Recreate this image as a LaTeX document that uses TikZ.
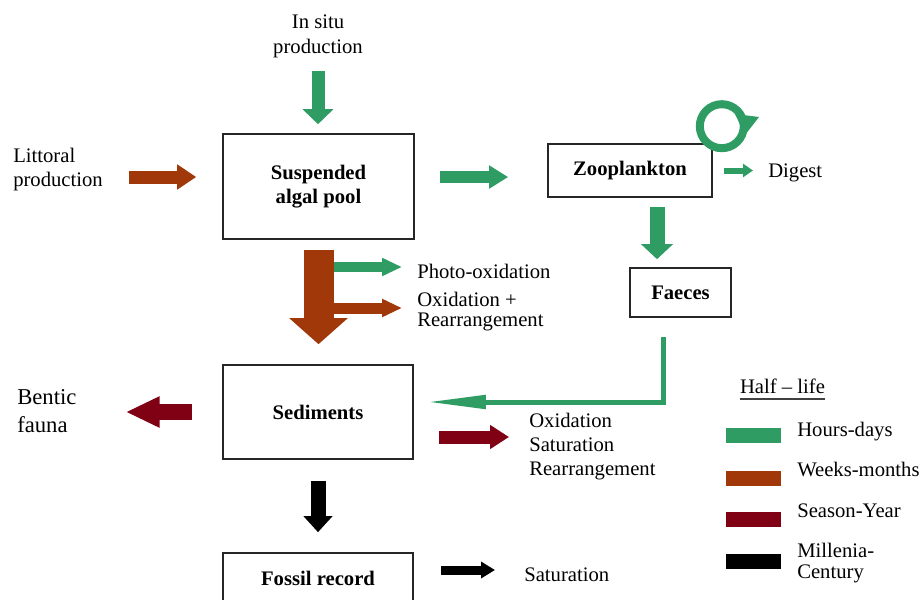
\documentclass[tikz,border=0pt]{standalone}
\usepackage{fontspec}
\setmainfont{Liberation Serif}
\usetikzlibrary{arrows.meta}
\definecolor{hgreen}{RGB}{46,156,99}
\definecolor{hbrown}{RGB}{160,56,10}
\definecolor{hred}{RGB}{128,0,20}
\begin{document}
\begin{tikzpicture}[x=0.75pt, y=-0.75pt,
    font=\fontsize{15.5}{18}\selectfont,
    box/.style={draw=black!85, line width=1.2pt, font=\fontsize{15.5}{18}\selectfont\bfseries, align=center, inner sep=0pt},
    lbl/.style={inner sep=0pt, align=left, anchor=west},
    key/.style={inner sep=0pt, minimum width=41.25pt, minimum height=11.25pt}]
    \useasboundingbox (0,0) rectangle (923,599);
    \clip (0,0) rectangle (923,599);

    % boxes
    \node[box, minimum width=143.25pt, minimum height=78.75pt] (algal) at (318.5,186.5) {Suspended\\algal pool};
    \node[box, minimum width=123pt, minimum height=39.75pt] (zoo) at (630,170.5) {Zooplankton};
    \node[box, minimum width=75.75pt, minimum height=36.75pt] (faeces) at (680.5,292.5) {Faeces};
    \node[box, minimum width=142.5pt, minimum height=70.5pt] (sed) at (318,412) {Sediments};
    \node[box, minimum width=142.5pt, minimum height=37.5pt] (fossil) at (318,578) {Fossil record};

    % labels
    \node[inner sep=0pt, align=center, font=\fontsize{15.5}{18.75}\selectfont] (insitu) at (318,36) {In situ\\production};
    \node[lbl] (littoral) at (13,170) {Littoral\\production};
    \node[lbl] (digest) at (768,173) {Digest};
    \node[lbl] (photo) at (417,271) {Photo-oxidation};
    \node[lbl] (oxrear) at (417,312) {Oxidation +\\[-3pt]Rearrangement};
    \node[lbl, font=\fontsize{17}{21}\selectfont] (bentic) at (17,411) {Bentic\\fauna};
    \node[lbl] (oxsat) at (529,447) {Oxidation\\Saturation\\Rearrangement};
    \node[lbl] (sat) at (524,575) {Saturation};

    % inputs
    \draw[hgreen, line width=9.75pt, -{Triangle[width=22.5pt,length=11.25pt]}, shorten <=10.1pt, shorten >=6.75pt]
        (insitu.south) -- (insitu.south |- algal.north);
    \draw[hbrown, line width=9.75pt, -{Triangle[width=18pt,length=14.25pt]}, shorten <=19.5pt, shorten >=19.5pt]
        ([yshift=-5.25pt]littoral.east) -- ([yshift=-5.25pt]littoral.east -| algal.west);

    % algal pool to zooplankton
    \draw[hgreen, line width=9pt, -{Triangle[width=16.5pt,length=14.25pt]}, shorten <=18.75pt, shorten >=29.25pt]
        ([yshift=7.1pt]algal.east) -- ([yshift=7.1pt]algal.east -| zoo.west);
    \draw[hgreen, line width=4.5pt, -{Triangle[width=9.75pt,length=7.5pt]}, shorten <=8.25pt, shorten >=11.25pt]
        (zoo.east) -- (zoo.east -| digest.west);
    \draw[hgreen, line width=11.25pt, -{Triangle[width=23.25pt,length=11.25pt]}, shorten <=6.75pt, shorten >=6pt]
        ([xshift=20.25pt]zoo.south) -- ([xshift=20.25pt]zoo.south |- faeces.north);
    % grazing loop
    \draw[hgreen, line width=6pt] ([xshift=6.75pt, yshift=12.75pt]zoo.north east) circle[radius=16.5pt];
    \fill[hgreen] (735,114) -- (759,117) -- (745,135) -- cycle;

    % settling
    \draw[hgreen, line width=7.5pt, -{Triangle[width=12.75pt,length=15pt]}, shorten >=11.25pt]
        ([yshift=3pt]photo.west -| algal.south) -- ([yshift=3pt]photo.west);
    \draw[hbrown, line width=8.25pt, -{Triangle[width=12.75pt,length=15pt]}, shorten >=11.25pt]
        ([yshift=3pt]oxrear.west -| algal.south) -- ([yshift=3pt]oxrear.west);
    \draw[hbrown, line width=22.5pt, -{Triangle[width=42.75pt,length=19.5pt]}, shorten <=7.5pt, shorten >=15pt]
        (algal.south) -- (algal.south |- sed.north);
    \draw[hgreen, line width=3.75pt, -{Triangle[width=9.75pt,length=44.25pt]}, shorten <=14.25pt, shorten >=9.75pt]
        ([xshift=-13.1pt]faeces.south) |- ([yshift=7.5pt]sed.east);

    % sediments
    \draw[hred, line width=12pt, -{Triangle[width=21.75pt,length=25.5pt]}, shorten <=22.5pt, shorten >=36.75pt]
        (sed.west) -- (sed.west -| bentic.east);
    \draw[hred, line width=9.75pt, -{Triangle[width=17.25pt,length=14.25pt]}, shorten <=18.75pt, shorten >=15pt]
        ([yshift=-18.75pt]sed.east) -- ([yshift=-18.75pt]sed.east -| oxsat.west);
    \draw[black, line width=11.25pt, -{Triangle[width=21pt,length=12pt]}, shorten <=15.75pt, shorten >=15pt]
        (sed.south) -- (fossil.north);
    \draw[black, line width=6.75pt, -{Triangle[width=12pt,length=10.5pt]}, shorten <=20.25pt, shorten >=21.75pt]
        ([yshift=6pt]fossil.east) -- ([yshift=6pt]fossil.east -| sat.west);

    % legend
    \node[inner sep=0pt] (title) at (782.5,386) {Half -- life};
    \draw[line width=1.5pt, black!75] ([yshift=-3.75pt]title.south west) -- ([yshift=-3.75pt]title.south east);
    \node[key, fill=hgreen] (khours) at (753.5,435.5) {};
    \node[key, fill=hbrown] (kweeks) at (753.5,478) {};
    \node[key, fill=hred] (kseason) at (753.5,519.5) {};
    \node[key, fill=black] (kmill) at (753.5,561.5) {};
    \node[lbl] (thours) at (797,432) {Hours-days};
    \node[lbl] (tweeks) at (797,469) {Weeks-months};
    \node[lbl] (tseason) at (797,511) {Season-Year};
    \node[lbl] (tmill) at (797,563) {Millenia-\\[-2.25pt]Century};
\end{tikzpicture}
\end{document}
